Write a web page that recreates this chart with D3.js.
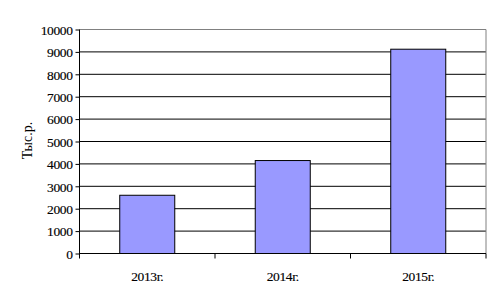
<!DOCTYPE html>
<html>
<head>
<meta charset="utf-8">
<script src="https://cdn.jsdelivr.net/npm/d3@7"></script>
<style>
    html, body { margin: 0; padding: 0; background: #fff; }
    svg text { font-family: "Liberation Serif", "Times New Roman", serif; font-size: 13px; fill: #000; }
</style>
</head>
<body>
<svg id="chart" width="498" height="307"></svg>
<script>
// Revenue by year, thousand roubles
const years = ['2013г.', '2014г.', '2015г.'];
const values = [2600, 4150, 9120];
const yTicks = [0, 1000, 2000, 3000, 4000, 5000, 6000, 7000, 8000, 9000, 10000];
const yTitle = 'Тыс.р.';

const svgWidth = 498, svgHeight = 307;
const margin = { top: 29.5, right: 12, bottom: 53.5, left: 79.5 };
const width = svgWidth - margin.left - margin.right;
const height = svgHeight - margin.top - margin.bottom;
const serif = '"Liberation Serif", "Times New Roman", serif';

const svg = d3.select('#chart')
    .append('g')
    .attr('transform', `translate(${margin.left},${margin.top})`);

const x = d3.scaleBand()
    .domain(years)
    .range([0, width])
    .paddingInner(0.594)
    .paddingOuter(0.297);

const y = d3.scaleLinear()
    .domain([0, 10000])
    .range([height, 0]);

// Gridlines
svg.append('g')
    .selectAll('line')
    .data(yTicks.filter(d => d > 0 && d < 10000))
    .enter()
    .append('line')
    .attr('x1', 0)
    .attr('x2', width)
    .attr('y1', d => y(d))
    .attr('y2', d => y(d))
    .attr('stroke', '#000')
    .attr('stroke-width', 1);

// Plot area frame (top + right in gray)
svg.append('path')
    .attr('d', `M0,${y(10000)}H${width}V${height}`)
    .attr('fill', 'none')
    .attr('stroke', '#808080');

// Bars
svg.selectAll('.bar')
    .data(values)
    .enter()
    .append('rect')
    .attr('class', 'bar')
    .attr('x', (d, i) => x(years[i]))
    .attr('width', x.bandwidth())
    .attr('y', d => y(d))
    .attr('height', d => y(0) - y(d))
    .attr('fill', '#9999ff')
    .attr('stroke', '#000')
    .attr('stroke-width', 1);

// Y axis
const yAxis = svg.append('g')
    .call(d3.axisLeft(y).tickValues(yTicks).tickSize(4).tickPadding(3).tickFormat(d3.format('d')))
    .attr('font-family', serif)
    .attr('font-size', 13);
yAxis.select('.domain').remove();
yAxis.selectAll('.tick line').attr('stroke', '#000');
yAxis.selectAll('text')
    .style('font-family', serif)
    .style('font-size', '13.5px')
    .style('letter-spacing', '-0.4px')
    .style('stroke', '#000')
    .style('stroke-width', '0.15px')
    .attr('dy', '0.35em');

svg.append('line')
    .attr('x1', 0).attr('x2', 0)
    .attr('y1', y(10000)).attr('y2', height + 5)
    .attr('stroke', '#000');

// X axis line and category separators
svg.append('line')
    .attr('x1', 0).attr('x2', width)
    .attr('y1', height).attr('y2', height)
    .attr('stroke', '#000');

const step = width / years.length;
svg.append('g')
    .selectAll('line')
    .data(d3.range(1, years.length + 1))
    .enter()
    .append('line')
    .attr('x1', d => d * step)
    .attr('x2', d => d * step)
    .attr('y1', height)
    .attr('y2', height + 5)
    .attr('stroke', '#000');

// Category labels
svg.append('g')
    .selectAll('text')
    .data(years)
    .enter()
    .append('text')
    .attr('x', d => x(d) + x.bandwidth() / 2)
    .attr('y', height + 27)
    .style('text-anchor', 'middle')
    .style('font-family', serif)
    .style('font-size', '13.5px')
    .style('letter-spacing', '-0.4px')
    .style('stroke', '#000')
    .style('stroke-width', '0.15px')
    .text(d => d);

// Y axis title
svg.append('text')
    .attr('transform', 'rotate(-90)')
    .attr('x', -(y(5000) - 1))
    .attr('y', -margin.left + 32)
    .style('text-anchor', 'middle')
    .style('font-family', serif)
    .style('font-size', '14px')
    .text(yTitle);
</script>
</body>
</html>
